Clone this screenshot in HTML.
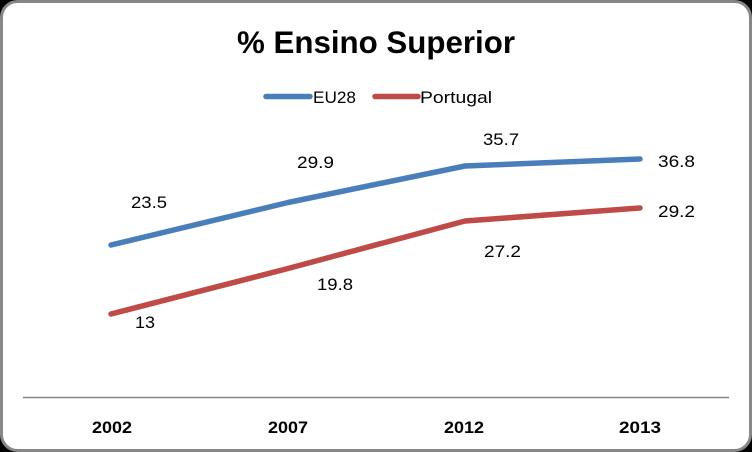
<!DOCTYPE html>
<html><head><meta charset="utf-8"><style>
html,body{margin:0;padding:0;background:#000;}
svg{display:block;}
</style></head><body>
<svg width="752" height="452" viewBox="0 0 752 452" xmlns="http://www.w3.org/2000/svg">
<rect x="0" y="0" width="752" height="452" fill="#000"/>
<rect x="1.5" y="1.5" width="749" height="449" rx="16" ry="16" fill="#fff" stroke="#878787" stroke-width="3"/>
<text x="376" y="53" text-anchor="middle" font-family="Liberation Sans, sans-serif" font-weight="bold" font-size="31.5" textLength="278" lengthAdjust="spacingAndGlyphs" fill="#000">% Ensino Superior</text>
<line x1="266" y1="96.5" x2="310" y2="96.5" stroke="#4A7EBB" stroke-width="5.5" stroke-linecap="round"/>
<text x="313" y="103" font-family="Liberation Sans, sans-serif" font-size="16.5" textLength="43" lengthAdjust="spacingAndGlyphs" fill="#000">EU28</text>
<line x1="375" y1="96.5" x2="418" y2="96.5" stroke="#BE4B48" stroke-width="5.5" stroke-linecap="round"/>
<text x="420" y="103" font-family="Liberation Sans, sans-serif" font-size="16.5" textLength="72" lengthAdjust="spacingAndGlyphs" fill="#000">Portugal</text>
<line x1="23" y1="397.5" x2="729" y2="397.5" stroke="#878787" stroke-width="1.5"/>
<polyline points="111,245 288,202.5 465,166 640,159" fill="none" stroke="#4A7EBB" stroke-width="5.5" stroke-linecap="round" stroke-linejoin="round"/>
<polyline points="111,314 288,268.5 465,221 640,208" fill="none" stroke="#BE4B48" stroke-width="5.5" stroke-linecap="round" stroke-linejoin="round"/>
<g font-family="Liberation Sans, sans-serif" font-size="17" fill="#000">
<text x="131" y="208" textLength="36" lengthAdjust="spacingAndGlyphs">23.5</text>
<text x="297" y="168" textLength="37" lengthAdjust="spacingAndGlyphs">29.9</text>
<text x="483" y="145" textLength="36" lengthAdjust="spacingAndGlyphs">35.7</text>
<text x="658" y="167" textLength="37" lengthAdjust="spacingAndGlyphs">36.8</text>
<text x="135" y="328" textLength="20" lengthAdjust="spacingAndGlyphs">13</text>
<text x="317" y="290" textLength="36" lengthAdjust="spacingAndGlyphs">19.8</text>
<text x="484" y="257" textLength="37" lengthAdjust="spacingAndGlyphs">27.2</text>
<text x="658" y="217" textLength="37" lengthAdjust="spacingAndGlyphs">29.2</text>
</g>
<g font-family="Liberation Sans, sans-serif" font-size="17" font-weight="bold" fill="#000">
<text x="92" y="433" textLength="40" lengthAdjust="spacingAndGlyphs">2002</text>
<text x="268" y="433" textLength="40" lengthAdjust="spacingAndGlyphs">2007</text>
<text x="444" y="433" textLength="40" lengthAdjust="spacingAndGlyphs">2012</text>
<text x="619" y="433" textLength="42" lengthAdjust="spacingAndGlyphs">2013</text>
</g>
</svg>
</body></html>
